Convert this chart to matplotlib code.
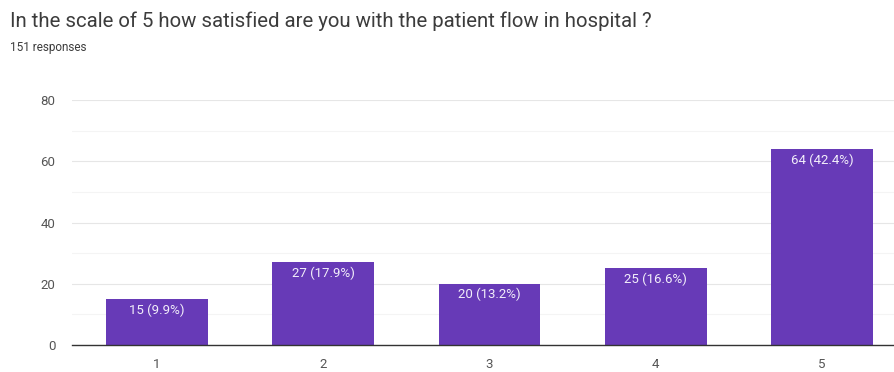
import matplotlib
matplotlib.use("Agg")
import matplotlib.pyplot as plt

# Survey responses: satisfaction rating 1-5
categories = ["1", "2", "3", "4", "5"]
counts = [15, 27, 20, 25, 64]
percents = [9.9, 17.9, 13.2, 16.6, 42.4]
y_ticks = [0, 20, 40, 60, 80]
total_responses = 151

title = "In the scale of 5 how satisfied are you with the patient flow in hospital ?"
subtitle = f"{total_responses} responses"

bar_color = "#673ab7"

fig = plt.figure(figsize=(8.95, 3.72), dpi=100)
fig.patch.set_facecolor("white")

fig.text(10 / 895, 1 - 21 / 372, title, fontsize=14.7, color="#3c3c3c",
         family="Roboto", va="center", ha="left")
fig.text(10 / 895, 1 - 48 / 372, subtitle, fontsize=8.5, color="#3c3c3c",
         family="Roboto", va="center", ha="left")

ax = fig.add_axes([72 / 895, 27 / 372, (907 - 72) / 895, (345 - 100) / 372])
x = list(range(1, len(categories) + 1))
bars = ax.bar(x, counts, width=0.61, color=bar_color, zorder=3)

for xi, c, p in zip(x, counts, percents):
    ax.text(xi, c - 1.4, f"{c} ({p}%)", ha="center", va="top",
            color="#f2eefa", fontsize=9.5, family="Roboto", zorder=4)

ax.set_xlim(0.49, 5.51)
ax.set_ylim(0, 80)
ax.set_yticks(y_ticks)
ax.set_yticks([10, 30, 50, 70], minor=True)
ax.set_xticks(x)
ax.set_xticklabels(categories)

ax.grid(axis="y", which="major", color="#e6e6e6", linewidth=0.8, zorder=0)
ax.grid(axis="y", which="minor", color="#f4f4f4", linewidth=0.8, zorder=0)

for s in ["top", "right", "left"]:
    ax.spines[s].set_visible(False)
ax.spines["bottom"].set_color("#333333")
ax.spines["bottom"].set_linewidth(1.0)
ax.spines["bottom"].set_zorder(5)

ax.tick_params(axis="both", which="both", length=0, labelsize=9.5,
               labelcolor="#555555")
ax.tick_params(axis="y", pad=12)
ax.tick_params(axis="x", pad=9)
for lbl in ax.get_xticklabels() + ax.get_yticklabels():
    lbl.set_family("Roboto")

fig.savefig("out.png", dpi=100, facecolor="white")
